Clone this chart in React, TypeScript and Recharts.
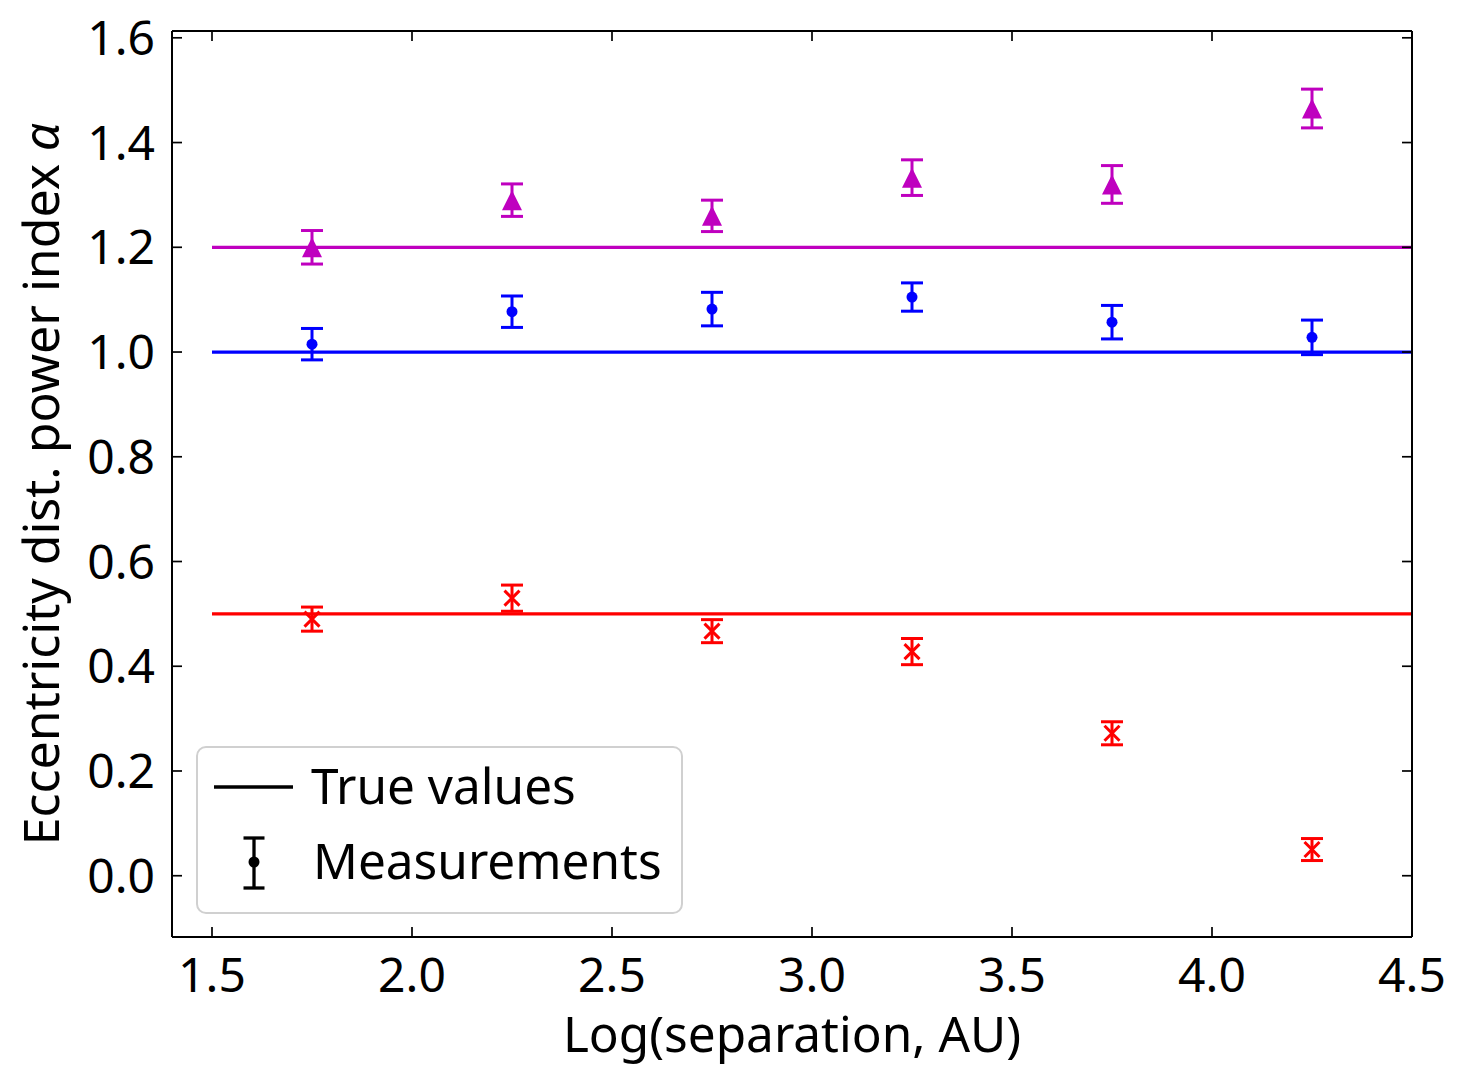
import React from 'react';
import { ComposedChart, Scatter, Line, XAxis, YAxis, ErrorBar, Legend } from 'recharts';

// ---- data ----
const separations = [1.75, 2.25, 2.75, 3.25, 3.75, 4.25];
const alphaHigh = [1.2, 1.29, 1.26, 1.333, 1.32, 1.465];
const errHigh = [0.032, 0.031, 0.03, 0.034, 0.036, 0.037];
const alphaMid = [1.015, 1.077, 1.082, 1.105, 1.057, 1.028];
const errMid = [0.03, 0.03, 0.032, 0.027, 0.032, 0.033];
const alphaLow = [0.49, 0.53, 0.467, 0.428, 0.272, 0.05];
const errLow = [0.023, 0.025, 0.022, 0.025, 0.022, 0.021];
const trueValues = [1.2, 1.0, 0.5];
const trueRange = [1.5, 4.5];
const xTicks = [1.5, 2.0, 2.5, 3.0, 3.5, 4.0, 4.5];
const yTicks = [0.0, 0.2, 0.4, 0.6, 0.8, 1.0, 1.2, 1.4, 1.6];
const xDomain = [1.4, 4.5];
const yDomain = [-0.117, 1.613];

const MAGENTA = '#bf00bf';
const BLUE = '#0000ff';
const RED = '#ff0000';
const FONT = "'Noto Sans', 'Open Sans', sans-serif";

const seriesColors = [MAGENTA, BLUE, RED];

const makePoints = (ys: number[], es: number[]) =>
  separations.map((x, i) => ({ x, y: ys[i], err: es[i] }));

const highData = makePoints(alphaHigh, errHigh);
const midData = makePoints(alphaMid, errMid);
const lowData = makePoints(alphaLow, errLow);

const trueLines = trueValues.map((v) => trueRange.map((x) => ({ x, y: v })));

// ---- ticks ----
const TICK_LEN = 10;
const TICK_W = 1.7;
const TICK_FONT = 48;

const BottomTick = (props: any) => {
  const { x, y, payload } = props;
  return (
    <g>
      <line x1={x} x2={x} y1={y} y2={y - TICK_LEN} stroke="#000" strokeWidth={TICK_W} />
      <text x={x} y={y + 55} textAnchor="middle" fontSize={TICK_FONT} fontFamily={FONT} fill="#000">
        {Number(payload.value).toFixed(1)}
      </text>
    </g>
  );
};

const LeftTick = (props: any) => {
  const { x, y, payload } = props;
  return (
    <g>
      <line x1={x} x2={x + TICK_LEN} y1={y} y2={y} stroke="#000" strokeWidth={TICK_W} />
      <text x={x - 17} y={y + 17} textAnchor="end" fontSize={TICK_FONT} fontFamily={FONT} fill="#000">
        {Number(payload.value).toFixed(1)}
      </text>
    </g>
  );
};

const TopTick = (props: any) => {
  const { x, y } = props;
  return <line x1={x} x2={x} y1={y} y2={y + TICK_LEN} stroke="#000" strokeWidth={TICK_W} />;
};

const RightTick = (props: any) => {
  const { x, y } = props;
  return <line x1={x} x2={x - TICK_LEN} y1={y} y2={y} stroke="#000" strokeWidth={TICK_W} />;
};

// ---- markers ----
const TriangleMarker = (p: any) => {
  const { cx, cy } = p;
  if (cx == null || cy == null) return null;
  return (
    <polygon
      points={`${cx},${cy - 10} ${cx - 10},${cy + 10} ${cx + 10},${cy + 10}`}
      fill={MAGENTA}
    />
  );
};

const DotMarker = (p: any) => {
  const { cx, cy } = p;
  if (cx == null || cy == null) return null;
  return <circle cx={cx} cy={cy} r={5.5} fill={BLUE} />;
};

const CrossMarker = (p: any) => {
  const { cx, cy } = p;
  if (cx == null || cy == null) return null;
  const s = 7.5;
  return (
    <g stroke={RED} strokeWidth={3}>
      <line x1={cx - s} y1={cy - s} x2={cx + s} y2={cy + s} />
      <line x1={cx - s} y1={cy + s} x2={cx + s} y2={cy - s} />
    </g>
  );
};

// ---- axis titles ----
const XTitle = (props: any) => {
  const vb = props.viewBox || { x: 172, y: 937, width: 1240, height: 147 };
  return (
    <text x={vb.x + vb.width / 2} y={vb.y + 115} textAnchor="middle" fontSize={49.5} fontFamily={FONT} fill="#000">
      Log(separation, AU)
    </text>
  );
};

const YTitle = (props: any) => {
  const vb = props.viewBox || { x: 0, y: 31, width: 172, height: 906 };
  const cx = vb.x + 59;
  const cy = vb.y + vb.height / 2;
  return (
    <text
      x={cx}
      y={cy}
      transform={`rotate(-90, ${cx}, ${cy})`}
      textAnchor="middle"
      fontSize={50}
      fontFamily={FONT}
      fill="#000"
    >
      Eccentricity dist. power index <tspan fontStyle="italic">α</tspan>
    </text>
  );
};

// ---- legend ----
const LegendBox = () => (
  <svg width={489} height={170} style={{ display: 'block', overflow: 'visible' }}>
    <rect x={1} y={1} width={485} height={166} rx={9} ry={9} fill="#ffffff" fillOpacity={0.8} stroke="#d0d0d0" strokeWidth={2} />
    <line x1={18} x2={97} y1={41} y2={41} stroke="#000" strokeWidth={3.3} />
    <text x={115} y={58} fontSize={49.5} fontFamily={FONT} fill="#000">True values</text>
    <g stroke="#000" strokeWidth={3.3}>
      <line x1={58} x2={58} y1={92} y2={142} />
      <line x1={47.5} x2={68.5} y1={92} y2={92} />
      <line x1={47.5} x2={68.5} y1={142} y2={142} />
    </g>
    <circle cx={58} cy={116} r={5.5} fill="#000" />
    <text x={117} y={133} fontSize={49.5} fontFamily={FONT} fill="#000">Measurements</text>
  </svg>
);

export default function App() {
  return (
    <div style={{ position: 'absolute', left: 0, top: 0, width: 1467, height: 1084, background: '#fff' }}>
      <ComposedChart
        width={1467}
        height={1084}
        margin={{ top: 30, right: 54, bottom: 0, left: 0 }}
        style={{ fontFamily: FONT }}
      >
        <XAxis
          xAxisId="bottom"
          dataKey="x"
          type="number"
          domain={xDomain}
          ticks={xTicks}
          interval={0}
          allowDataOverflow
          height={147}
          tickSize={0}
          tickMargin={0}
          tickLine={false}
          axisLine={{ stroke: '#000', strokeWidth: 2 }}
          tick={<BottomTick />}
          label={<XTitle />}
        />
        <XAxis
          xAxisId="top"
          orientation="top"
          dataKey="x"
          type="number"
          domain={xDomain}
          ticks={xTicks}
          interval={0}
          allowDataOverflow
          height={1}
          tickSize={0}
          tickMargin={0}
          tickLine={false}
          axisLine={{ stroke: '#000', strokeWidth: 2 }}
          tick={<TopTick />}
        />
        <YAxis
          yAxisId="left"
          dataKey="y"
          type="number"
          domain={yDomain}
          ticks={yTicks}
          interval={0}
          allowDataOverflow
          width={172}
          tickSize={0}
          tickMargin={0}
          tickLine={false}
          axisLine={{ stroke: '#000', strokeWidth: 2 }}
          tick={<LeftTick />}
          label={<YTitle />}
        />
        <YAxis
          yAxisId="right"
          orientation="right"
          dataKey="y"
          type="number"
          domain={yDomain}
          ticks={yTicks}
          interval={0}
          allowDataOverflow
          width={1}
          tickSize={0}
          tickMargin={0}
          tickLine={false}
          axisLine={{ stroke: '#000', strokeWidth: 2 }}
          tick={<RightTick />}
        />

        {trueLines.map((d, i) => (
          <Line
            key={`true-${i}`}
            xAxisId="bottom"
            yAxisId="left"
            data={d}
            dataKey="y"
            stroke={seriesColors[i]}
            strokeWidth={3.3}
            dot={false}
            activeDot={false}
            isAnimationActive={false}
            legendType="none"
          />
        ))}

        <Scatter xAxisId="bottom" yAxisId="left" data={highData} dataKey="y" shape={<TriangleMarker />} isAnimationActive={false}>
          <ErrorBar dataKey="err" direction="y" width={11} stroke={MAGENTA} strokeWidth={3} isAnimationActive={false} />
        </Scatter>
        <Scatter xAxisId="bottom" yAxisId="left" data={midData} dataKey="y" shape={<DotMarker />} isAnimationActive={false}>
          <ErrorBar dataKey="err" direction="y" width={11} stroke={BLUE} strokeWidth={3} isAnimationActive={false} />
        </Scatter>
        <Scatter xAxisId="bottom" yAxisId="left" data={lowData} dataKey="y" shape={<CrossMarker />} isAnimationActive={false}>
          <ErrorBar dataKey="err" direction="y" width={11} stroke={RED} strokeWidth={3} isAnimationActive={false} />
        </Scatter>

        <Legend
          layout="horizontal"
          verticalAlign="middle"
          align="center"
          content={<LegendBox />}
          wrapperStyle={{ left: 196, top: 746, width: 489, height: 170 }}
        />
      </ComposedChart>
    </div>
  );
}
